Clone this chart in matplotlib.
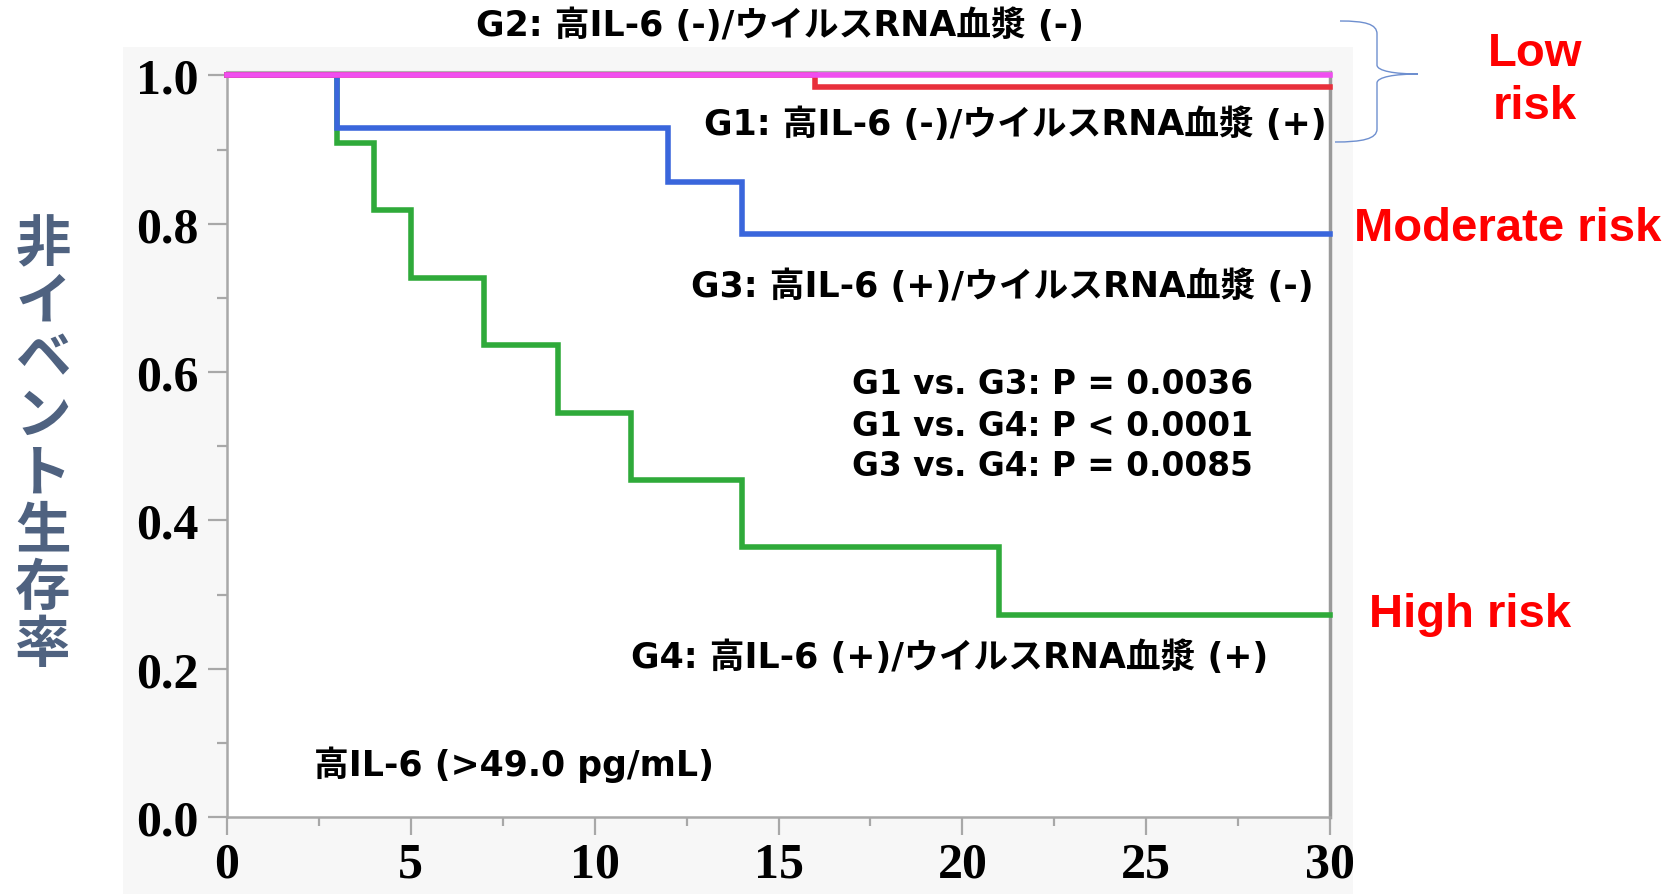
import matplotlib
matplotlib.use("Agg")
import matplotlib.pyplot as plt
from matplotlib.patches import Rectangle, PathPatch
from matplotlib.path import Path
from matplotlib.ticker import MultipleLocator

# ---- data (Kaplan-Meier steps) ----
g2_t = [0, 30]
g2_s = [1.0, 1.0]
g1_t = [0, 16, 30]
g1_s = [1.0, 0.985, 0.985]
g3_t = [0, 3, 12, 14, 30]
g3_s = [1.0, 0.929, 0.857, 0.786, 0.786]
g4_t = [0, 3, 4, 5, 7, 9, 11, 14, 21, 30]
g4_s = [1.0, 0.909, 0.818, 0.727, 0.636, 0.545, 0.455, 0.364, 0.273, 0.273]

x_ticks = [0, 5, 10, 15, 20, 25, 30]
y_ticks = [0.0, 0.2, 0.4, 0.6, 0.8, 1.0]

group_labels = [
    "G2: 高IL-6 (-)/ウイルスRNA血漿 (-)",
    "G1: 高IL-6 (-)/ウイルスRNA血漿 (+)",
    "G3: 高IL-6 (+)/ウイルスRNA血漿 (-)",
    "G4: 高IL-6 (+)/ウイルスRNA血漿 (+)",
]
p_labels = ["G1 vs. G3: P = 0.0036", "G1 vs. G4: P < 0.0001", "G3 vs. G4: P = 0.0085"]
note_label = "高IL-6 (>49.0 pg/mL)"
ylabel_chars = "非イベント生存率"

W, H = 1681, 895
fig = plt.figure(figsize=(W / 100, H / 100), dpi=100)
fig.patch.set_facecolor("white")

def fx(x):
    return x / W

def fy(y):
    return 1 - y / H

# light gray panel
fig.patches.append(Rectangle((fx(123), 0), fx(1353) - fx(123), fy(48), transform=fig.transFigure,
                             facecolor="#f7f7f7", edgecolor="none", zorder=-5))

ax = fig.add_axes([fx(227), fy(818), fx(1330) - fx(227), fy(73) - fy(818)])
ax.set_zorder(1)
ax.set_facecolor("white")
ax.set_xlim(0, 30)
ax.set_ylim(0, 1.0047)

lw = 4.0
ax.step(g4_t, g4_s, where="post", color="#2faa3a", lw=lw, clip_on=False, zorder=3, solid_joinstyle="miter")
ax.step(g3_t, g3_s, where="post", color="#3a66dc", lw=lw, clip_on=False, zorder=4, solid_joinstyle="miter")
ax.step(g1_t, g1_s, where="post", color="#e8303c", lw=lw, clip_on=False, zorder=5, solid_joinstyle="miter")
ax.step(g2_t, g2_s, where="post", color="#f04ef0", lw=lw, clip_on=False, zorder=6, solid_joinstyle="miter")

for s in ["left", "bottom"]:
    ax.spines[s].set_color("#a8a8a8")
    ax.spines[s].set_linewidth(1.8)
ax.spines["right"].set_color("#9a9a9a")
ax.spines["right"].set_linewidth(2.5)
ax.spines["top"].set_color("#b0b0b0")
ax.spines["top"].set_linewidth(1.5)

ax.set_xticks(x_ticks)
ax.set_yticks(y_ticks)
ax.set_xticklabels([str(v) for v in x_ticks])
ax.set_yticklabels([f"{v:.1f}" for v in y_ticks])
ax.xaxis.set_minor_locator(MultipleLocator(2.5))
ax.yaxis.set_minor_locator(MultipleLocator(0.1))
ax.tick_params(axis="both", which="major", color="#a8a8a8", width=1.6, direction="out")
ax.tick_params(axis="y", which="major", length=13.5, pad=7)
ax.tick_params(axis="y", which="minor", length=7, color="#a8a8a8", width=1.6)
ax.tick_params(axis="x", which="major", length=13, pad=5)
ax.tick_params(axis="x", which="minor", length=6.5, color="#a8a8a8", width=1.6)
for lab in ax.get_yticklabels() + ax.get_xticklabels():
    lab.set_fontfamily("Liberation Serif")
    lab.set_fontweight("bold")
    lab.set_fontsize(36)

fam = ["DejaVu Sans", "Noto Sans CJK JP"]
tfs = 25
fig.text(fx(780), fy(26), group_labels[0], ha="center", va="center", fontsize=tfs, fontweight="bold", family=fam)
fig.text(fx(704), fy(125), group_labels[1], ha="left", va="center", fontsize=tfs, fontweight="bold", family=fam)
fig.text(fx(691), fy(287), group_labels[2], ha="left", va="center", fontsize=tfs, fontweight="bold", family=fam)
fig.text(fx(631), fy(658), group_labels[3], ha="left", va="center", fontsize=tfs, fontweight="bold", family=fam)
for lab, yy in zip(p_labels, [385, 427, 467]):
    fig.text(fx(852), fy(yy), lab, ha="left", va="center", fontsize=23.6, fontweight="bold", family=fam)
fig.text(fx(314), fy(765), note_label, ha="left", va="center", fontsize=tfs, fontweight="bold", family=fam)

# risk labels
rfam = ["Liberation Sans", "DejaVu Sans"]
rfs = 34
fig.text(fx(1535), fy(54), "Low", ha="center", va="center", fontsize=rfs, fontweight="bold", color="#ff0000", family=rfam)
fig.text(fx(1535), fy(107), "risk", ha="center", va="center", fontsize=rfs, fontweight="bold", color="#ff0000", family=rfam)
fig.text(fx(1354), fy(229), "Moderate risk", ha="left", va="center", fontsize=rfs, fontweight="bold", color="#ff0000", family=rfam)
fig.text(fx(1369), fy(615), "High risk", ha="left", va="center", fontsize=rfs, fontweight="bold", color="#ff0000", family=rfam)

# vertical y label (stacked upright characters)
for i, ch in enumerate(ylabel_chars):
    fig.text(fx(43), fy(245 + i * 57.3), ch, ha="center", va="center", fontsize=40, fontweight="bold",
             color="#4f6280", family=["Noto Sans CJK JP"])

# curly brace
verts = [(1340, 22), (1365, 22), (1377, 25), (1377, 35),
         (1377, 66),
         (1377, 72), (1395, 75), (1418, 75),
         (1395, 75), (1377, 78), (1377, 84),
         (1377, 130),
         (1377, 140), (1362, 143), (1335, 143)]
codes = [Path.MOVETO, Path.CURVE4, Path.CURVE4, Path.CURVE4,
         Path.LINETO,
         Path.CURVE4, Path.CURVE4, Path.CURVE4,
         Path.CURVE4, Path.CURVE4, Path.CURVE4,
         Path.LINETO,
         Path.CURVE4, Path.CURVE4, Path.CURVE4]
brace = Path([(fx(x), fy(y)) for x, y in verts], codes)
fig.patches.append(PathPatch(brace, transform=fig.transFigure, facecolor="none", edgecolor="#6e8fcf", lw=1.0))

fig.savefig("out.png", dpi=100)
